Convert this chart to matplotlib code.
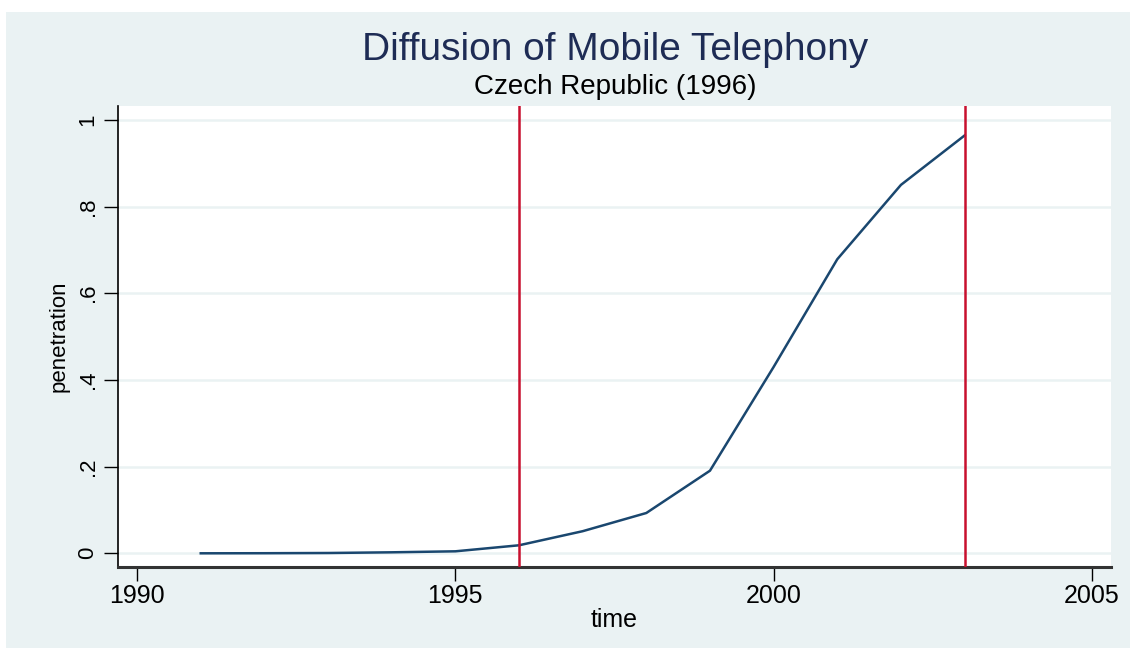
import matplotlib.pyplot as plt
from matplotlib.patches import Rectangle

plt.rcParams['font.family'] = ['Liberation Sans', 'DejaVu Sans']

years = [1991, 1992, 1993, 1994, 1995, 1996, 1997, 1998, 1999, 2000, 2001, 2002, 2003]
penetration = [0.0, 0.0002, 0.0007, 0.0023, 0.0046, 0.0185, 0.051, 0.093,
               0.1906, 0.43, 0.6785, 0.850, 0.964]
vlines = [1996, 2003]
xticks = [1990, 1995, 2000, 2005]
yticks = [0, 0.2, 0.4, 0.6, 0.8, 1.0]
ytick_labels = ['0', '.2', '.4', '.6', '.8', '1']

W, H = 1130, 648
fig = plt.figure(figsize=(W / 100, H / 100), dpi=100)
fig.patch.set_facecolor('white')
# Stata-like graph region
bg = Rectangle((6 / W, 0), 1 - 6 / W, 1 - 12 / H, transform=fig.transFigure,
               facecolor='#EAF2F3', edgecolor='none', zorder=-10)
fig.add_artist(bg)

left, right, top, bottom = 118, 1111, 106, 567
ax = fig.add_axes([left / W, 1 - bottom / H, (right - left) / W, (bottom - top) / H])
ax.set_zorder(5)
ax.set_facecolor('white')

ax.plot(years, penetration, color='#1A476F', lw=1.8, zorder=3)
for v in vlines:
    ax.axvline(v, color='#C8102E', lw=1.8, zorder=4)

ax.set_xlim(1989.7, 2005.3)
ax.set_ylim(-0.0316, 1.032)
ax.set_xticks(xticks)
ax.set_yticks(yticks)
ax.set_yticklabels(ytick_labels, rotation=90, va='center')
ax.grid(axis='y', color='#EAF2F3', lw=1.8, zorder=1)
ax.set_axisbelow(True)

for s in ['top', 'right']:
    ax.spines[s].set_visible(False)
ax.spines['left'].set_color('black')
ax.spines['left'].set_linewidth(1.2)
ax.spines['bottom'].set_color('#333333')
ax.spines['bottom'].set_linewidth(2.2)

ax.tick_params(axis='both', length=10, width=1.0, color='black')
ax.tick_params(axis='y', pad=4, labelsize=16)
ax.tick_params(axis='x', pad=2, labelsize=18)

ax.set_xlabel('time', fontsize=18, labelpad=0)
ax.set_ylabel('penetration', fontsize=16, labelpad=6)

fig.text(615 / W, 1 - 50 / H, 'Diffusion of Mobile Telephony', ha='center', va='center',
         fontsize=28, color='#1E2C55')
fig.text(615 / W, 1 - 87 / H, 'Czech Republic (1996)', ha='center', va='center',
         fontsize=20, color='black')

fig.savefig('out.png', dpi=100)
